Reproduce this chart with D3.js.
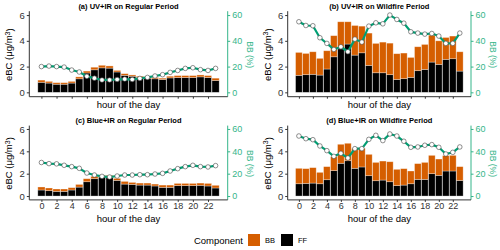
<!DOCTYPE html>
<html>
<head>
<meta charset="utf-8">
<script src="https://cdn.jsdelivr.net/npm/d3@7"></script>
<style>
  body { margin: 0; background: #fff; }
  svg { font-family: "Liberation Sans", Arial, sans-serif; }
</style>
</head>
<body>
<div id="chart"></div>
<script>
// hours of the day (categories)
var hours = [0,1,2,3,4,5,6,7,8,9,10,11,12,13,14,15,16,17,18,19,20,21,22,23];
var hourTicks = [0,2,4,6,8,10,12,14,16,18,20,22];
var ebcTicks = [0,2,4,6];
var bbTicks = [0,20,40,60];

// (a) UV+IR regular
var ffA = [0.78,0.72,0.63,0.63,0.72,1.05,1.50,1.75,1.90,1.88,1.58,1.32,1.25,1.15,1.10,1.05,1.00,1.12,1.15,1.15,1.15,1.20,1.15,0.92];
var bbA = [0.17,0.13,0.12,0.12,0.13,0.15,0.15,0.20,0.20,0.17,0.12,0.13,0.10,0.10,0.10,0.10,0.10,0.13,0.15,0.15,0.15,0.15,0.15,0.18];
var pctA = [20,20.4,20,19.6,17.3,15.8,12.4,11,9.6,9.6,10,10.3,10,10.8,11.6,12.7,13.7,15.5,17,18.6,19.1,17.6,17,18.6];

// (b) UV+IR wildfire
var ffB = [1.32,1.37,1.40,1.34,1.81,2.76,3.38,3.75,2.89,3.07,2.09,1.52,1.52,1.37,1.00,1.06,1.16,1.68,1.78,2.35,2.17,2.56,2.61,1.65];
var bbB = [1.78,1.65,1.75,1.30,1.42,1.64,2.10,1.73,2.30,2.07,2.51,2.28,2.38,2.45,2.00,1.99,1.55,1.86,1.94,2.09,1.83,1.70,1.76,1.50];
var pctB = [54.8,51.9,51.7,42.4,38,33.3,35.4,31.5,41.3,39,51.4,54,53.2,60,56.6,53.7,47,46,45.2,45.7,43.7,38,38,46];

// (c) Blue+IR regular
var ffC = [0.54,0.48,0.42,0.42,0.54,0.80,1.28,1.55,1.70,1.64,1.40,1.07,1.04,0.98,0.98,0.90,0.78,0.78,0.93,0.93,0.93,0.96,0.90,0.72];
var bbC = [0.27,0.24,0.21,0.21,0.21,0.24,0.27,0.21,0.15,0.21,0.18,0.24,0.18,0.18,0.18,0.17,0.20,0.20,0.20,0.20,0.20,0.20,0.23,0.24];
var pctC = [30,29,28.8,27.5,26.3,24.8,20.6,18.8,17.6,17,17.9,18.8,18.8,19.1,19.1,19.7,20.3,22.4,24.5,26.3,27.5,26.3,26,27.2];

// (d) Blue+IR wildfire
var ffD = [1.10,1.13,1.16,1.10,1.46,2.27,2.93,3.16,2.48,2.60,1.82,1.37,1.43,1.28,0.93,0.98,1.10,1.49,1.49,2.00,1.85,2.24,2.24,1.40];
var bbD = [1.38,1.32,1.38,1.02,1.17,1.25,1.70,1.56,1.79,1.67,1.91,1.64,1.70,1.79,1.46,1.47,1.14,1.41,1.52,1.64,1.46,1.37,1.40,1.23];
var pctD = [53.7,51.3,50.4,44.8,40.6,35.5,38.2,34,42.4,42.4,50.7,54.3,49.6,55.5,53.7,49,43.6,43.9,45.4,46,43.6,37.6,39.1,43.9];

var components = ["BB", "FF"];
var compColor = { BB: "#D55E00", FF: "#000000" };
var lineColor = "#009E73",
    rightAxisColor = "#35B58A",
    textColor = "#333333";

var panels = [
  { title: "(a) UV+IR on Regular Period", ff: ffA, bb: bbA, pct: pctA, x0: 29.3, x1: 227.7, y0: 96.2, y1: 11.2, labels: false },
  { title: "(b) UV+IR on Wildfire Period", ff: ffB, bb: bbB, pct: pctB, x0: 287.7, x1: 471, y0: 96.2, y1: 11.2, labels: false },
  { title: "(c) Blue+IR on Regular Period", ff: ffC, bb: bbC, pct: pctC, x0: 29.3, x1: 227.7, y0: 199.4, y1: 125.6, labels: true },
  { title: "(d) Blue+IR on Wildfire Period", ff: ffD, bb: bbD, pct: pctD, x0: 287.7, x1: 471, y0: 199.4, y1: 125.6, labels: true }
];

var svg = d3.select("#chart").append("svg")
  .attr("width", 500)
  .attr("height", 250);

panels.forEach(function(p) {
  var x = d3.scaleLinear().domain([-1.6, 24.6]).range([p.x0, p.x1]);
  var y = d3.scaleLinear().domain([-0.3, 6.3]).range([p.y0, p.y1]);
  var y2 = d3.scaleLinear().domain([-3, 63]).range([p.y0, p.y1]);
  var bw = x(0.95) - x(0);

  var rows = hours.map(function(h, i) { return { hour: h, FF: p.ff[i], BB: p.bb[i] }; });
  var stacked = d3.stack().keys(["FF", "BB"])(rows);

  var g = svg.append("g");

  // bars
  g.selectAll(".layer")
    .data(stacked)
    .enter()
    .append("g")
    .attr("fill", function(d) { return compColor[d.key]; })
    .selectAll("rect")
    .data(function(d) { return d; })
    .enter()
    .append("rect")
    .attr("x", function(d) { return x(d.data.hour) - bw / 2; })
    .attr("width", bw)
    .attr("y", function(d) { return y(d[1]); })
    .attr("height", function(d) { return y(d[0]) - y(d[1]); })
    .attr("stroke", "#ffffff")
    .attr("stroke-opacity", 0.45)
    .attr("stroke-width", 0.7);

  // BB % line
  var line = d3.line()
    .x(function(d, i) { return x(hours[i]); })
    .y(function(d) { return y2(d); });
  g.append("path")
    .datum(p.pct)
    .attr("d", line)
    .attr("fill", "none")
    .attr("stroke", lineColor)
    .attr("stroke-width", 2.2)
    .attr("stroke-linejoin", "round");

  g.selectAll(".pt")
    .data(p.pct)
    .enter()
    .append("circle")
    .attr("cx", function(d, i) { return x(hours[i]); })
    .attr("cy", function(d) { return y2(d); })
    .attr("r", 2.3)
    .attr("fill", "#ffffff")
    .attr("stroke", "#444")
    .attr("stroke-width", 0.6);

  // left axis
  var yAxis = d3.axisLeft(y).tickValues(ebcTicks).tickFormat(d3.format("d")).tickSize(2.5).tickPadding(2);
  var ga = g.append("g").attr("transform", "translate(" + p.x0 + ",0)").call(yAxis);
  ga.select(".domain").attr("d", "M0," + (p.y0 + 0.5) + "V" + p.y1).attr("stroke", textColor);
  ga.selectAll("line").attr("stroke", textColor);
  ga.selectAll("text").attr("fill", textColor).style("font-size", "9.5px");

  // right axis
  var yAxisR = d3.axisRight(y2).tickValues(bbTicks).tickFormat(d3.format("d")).tickSize(2.5).tickPadding(2);
  var gr = g.append("g").attr("transform", "translate(" + p.x1 + ",0)").call(yAxisR);
  gr.select(".domain").attr("d", "M0," + (p.y0 + 0.5) + "V" + p.y1).attr("stroke", rightAxisColor);
  gr.selectAll("line").attr("stroke", rightAxisColor);
  gr.selectAll("text").attr("fill", rightAxisColor).style("font-size", "9px");

  // bottom axis
  var xAxis = d3.axisBottom(x).tickValues(hourTicks).tickSize(2).tickPadding(1)
    .tickFormat(p.labels ? d3.format("d") : "");
  var gx = g.append("g").attr("transform", "translate(0," + (p.y0 + 0.5) + ")").call(xAxis);
  gx.select(".domain").attr("d", "M" + p.x0 + ",0H" + p.x1).attr("stroke", textColor);
  gx.selectAll("line").attr("stroke", textColor);
  gx.selectAll("text").attr("fill", textColor).style("font-size", "9px");

  var cx = (p.x0 + p.x1) / 2;

  // title
  g.append("text")
    .attr("x", cx)
    .attr("y", p.y1 - 2.5)
    .attr("text-anchor", "middle")
    .style("font-size", "7.5px")
    .style("font-weight", "bold")
    .text(p.title);

  // x label
  g.append("text")
    .attr("x", cx)
    .attr("y", p.labels ? p.y0 + 22.3 : p.y0 + 11.5)
    .attr("text-anchor", "middle")
    .style("font-size", "9.5px")
    .attr("fill", "#000")
    .text("hour of the day");

  // left y label
  var ym = (p.y0 + p.y1) / 2 + 1;
  var lt = g.append("text")
    .attr("transform", "translate(" + (p.x0 - 17) + "," + ym + ") rotate(-90)")
    .attr("text-anchor", "middle")
    .style("font-size", "9.5px")
    .text("eBC (μg/m");
  lt.append("tspan").attr("dy", "-0.4em").style("font-size", "7px").text("3");
  lt.append("tspan").attr("dy", "0.4em").text(")");

  // right y label
  g.append("text")
    .attr("transform", "translate(" + (p.x1 + 19) + "," + ym + ") rotate(90)")
    .attr("text-anchor", "middle")
    .attr("fill", rightAxisColor)
    .style("font-size", "8.5px")
    .text("BB (%)");
});

// legend
var legend = svg.append("g");
legend.append("text")
  .attr("x", 243)
  .attr("y", 243.5)
  .attr("text-anchor", "end")
  .style("font-size", "9.5px")
  .attr("fill", "#000")
  .text("Component");

var items = legend.selectAll(".item")
  .data(components)
  .enter()
  .append("g")
  .attr("transform", function(d, i) { return "translate(" + (248 + i * 33) + ",234)"; });
items.append("rect")
  .attr("width", 12)
  .attr("height", 12)
  .attr("fill", function(d) { return compColor[d]; });
items.append("text")
  .attr("x", 17)
  .attr("y", 9)
  .style("font-size", "7.5px")
  .attr("fill", "#000")
  .text(function(d) { return d; });
</script>
</body>
</html>
